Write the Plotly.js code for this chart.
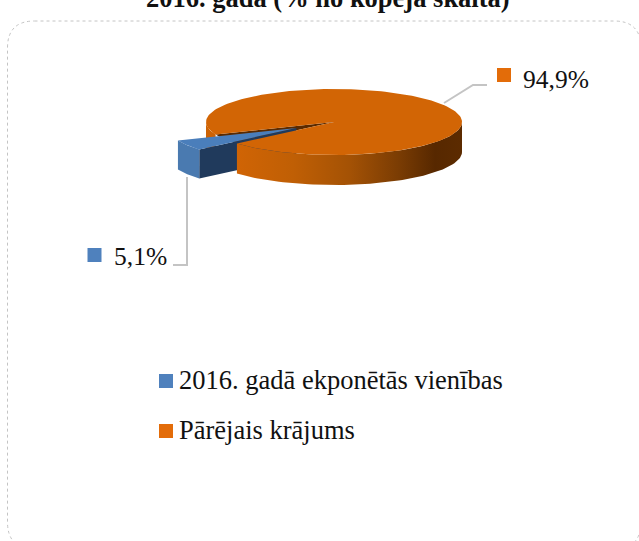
<!DOCTYPE html>
<html>
<head>
<meta charset="utf-8">
<script src="https://cdn.plot.ly/plotly-3.0.1.min.js"></script>
<style>html,body{margin:0;padding:0;background:#fff;overflow:hidden}#c{width:639px;height:541px}</style>
</head>
<body>
<div id="c"></div>
<script>
var categories = ["2016. gadā ekponētās vienības", "Pārējais krājums"];
var values = [5.1, 94.9];
var dataLabels = ["5,1%", "94,9%"];
var titleText = "2016. gadā (% no kopējā skaitā)";
var serif = '"Liberation Serif","Times New Roman",serif';

// projected pie geometry
var cx = 334, cy = 122, rx = 128, ry = 33, depth = 30, blueDepth = 29;
var sliceMid = 148.5, explode = 0.345;
var total = values[0] + values[1];
var sweep = values[0] / total * 360;
var a0 = sliceMid - sweep / 2, a1 = sliceMid + sweep / 2;
var rad = function (d) { return d * Math.PI / 180; };
function pt(c, t, dy) { return [c[0] + rx * Math.cos(rad(t)), c[1] + ry * Math.sin(rad(t)) + (dy || 0)]; }
function arc(c, from, to, dy) {
  var out = [], n = Math.max(2, Math.ceil(Math.abs(to - from) / 2));
  for (var i = 0; i <= n; i++) out.push(pt(c, from + (to - from) * i / n, dy));
  return out;
}
function poly(points, color, extra) {
  var tr = { type: 'scatter', mode: 'lines', x: points.map(function (p) { return p[0]; }), y: points.map(function (p) { return p[1]; }),
    fill: 'toself', fillcolor: color, line: { width: 0, color: color }, hoverinfo: 'skip', showlegend: false };
  for (var k in extra) tr[k] = extra[k];
  return tr;
}
var c = [cx, cy];
var b = [cx + rx * explode * Math.cos(rad(sliceMid)), cy + ry * explode * Math.sin(rad(sliceMid))];
var orange = '#d26505', blue = '#4a7ebb', navy = '#203a5c', brown = '#5a2a00';

var traces = [];
// visible wall at far left of the gap
traces.push(poly(arc(c, a1, 180, 0).concat(arc(c, 180, a1, depth)), '#cc6205'));
// inside of the gap
traces.push(poly([c].concat(arc(c, a0, a1, 0)), brown));
// blue cut wall and outer wall
traces.push(poly([b, pt(b, a0), pt(b, a0, blueDepth), [b[0], b[1] + blueDepth]], navy));
traces.push(poly(arc(b, a0, a1, 0).concat(arc(b, a1, a0, blueDepth)), '#4a7ab0'));
// orange front wall with the shaded bands
traces.push(poly(arc(c, 0, a0, 0).concat(arc(c, a0, 0, depth)), orange, {
  fillgradient: { type: 'horizontal', colorscale: [[0, '#d06405'], [0.25, '#c05f05'], [0.5, '#a45205'], [0.72, '#7a3c03'], [0.88, '#572800'], [1, '#5c2b00']] }
}));
// orange top
traces.push(poly([c].concat(arc(c, a1, a0 + 360, 0)), orange));
// blue top
traces.push(poly([b].concat(arc(b, a0, a1, 0)), blue));

var markerColors = ['#4f81bd', '#e36c09'];
// data-label and legend swatches
traces.push({ type: 'scatter', mode: 'markers', x: [94.5, 504], y: [255, 75], hoverinfo: 'skip', showlegend: false,
  marker: { symbol: 'square', size: 14, color: markerColors, line: { width: 0 } } });
traces.push({ type: 'scatter', mode: 'markers', x: [166, 166], y: [381, 431], hoverinfo: 'skip', showlegend: false,
  marker: { symbol: 'square', size: 14, color: markerColors, line: { width: 0 } } });

function txt(x, y, t, size) {
  return { x: x, y: y, xref: 'x', yref: 'y', text: t, showarrow: false, xanchor: 'left', yanchor: 'middle',
    font: { family: serif, size: size, color: '#111' } };
}
var L = 7.5, T = 21, R = 641, B = 549, r = 27;
var frame = 'M' + (L + r) + ',' + T + ' L' + (R - r) + ',' + T + ' Q' + R + ',' + T + ' ' + R + ',' + (T + r) + ' L' + R + ',' + (B - r) +
  ' Q' + R + ',' + B + ' ' + (R - r) + ',' + B + ' L' + (L + r) + ',' + B + ' Q' + L + ',' + B + ' ' + L + ',' + (B - r) +
  ' L' + L + ',' + (T + r) + ' Q' + L + ',' + T + ' ' + (L + r) + ',' + T + ' Z';

var layout = {
  width: 639, height: 541, margin: { l: 0, r: 0, t: 0, b: 0 }, paper_bgcolor: '#fff', plot_bgcolor: '#fff', showlegend: false,
  title: { text: '<b>' + titleText + '</b>', x: 0.513, xanchor: 'center', y: 0.9875, yanchor: 'bottom', pad: { t: 0, b: 0, l: 0, r: 0 },
    font: { family: serif, size: 26.5, color: '#111' } },
  xaxis: { range: [0, 639], visible: false, fixedrange: true },
  yaxis: { range: [541, 0], visible: false, fixedrange: true },
  shapes: [
    { type: 'path', xref: 'x', yref: 'y', path: frame, line: { color: '#c4c4c4', width: 1, dash: 'dot' }, layer: 'below' },
    { type: 'path', xref: 'x', yref: 'y', path: 'M444,103 L473,85 L487,85', line: { color: '#c4c4c4', width: 2 }, layer: 'above' },
    { type: 'path', xref: 'x', yref: 'y', path: 'M187,177 L187,265 L173,265', line: { color: '#c4c4c4', width: 2 }, layer: 'above' }
  ],
  annotations: [
    txt(112, 256, dataLabels[0], 25.5),
    txt(521, 79, dataLabels[1], 25.5),
    txt(177, 380, categories[0], 26.5),
    txt(177, 430, categories[1], 26.5)
  ]
};
Plotly.newPlot('c', traces, layout, { displayModeBar: false, staticPlot: true });
</script>
</body>
</html>
